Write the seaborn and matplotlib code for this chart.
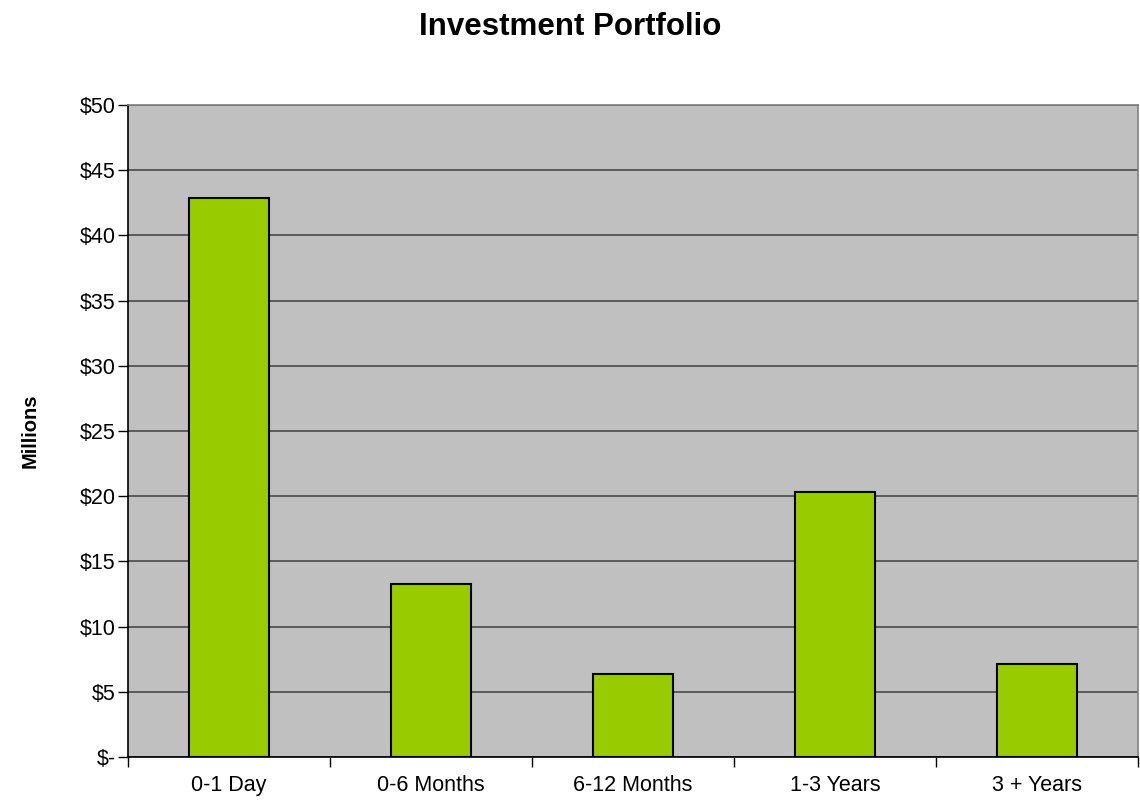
import pandas as pd
import seaborn as sns
import matplotlib.pyplot as plt
from matplotlib.ticker import MultipleLocator, FuncFormatter

# values (millions of dollars)
terms = ['0-1 Day', '0-6 Months', '6-12 Months', '1-3 Years', '3 + Years']
amounts = [42.9, 13.3, 6.4, 20.35, 7.15]


def dollar(v, pos):
    if v == 0:
        return '$-'
    return '${:.0f}'.format(v)


def main():
    sns.set_style('white')
    plt.rcParams['font.family'] = ['Liberation Sans', 'DejaVu Sans']
    plt.rcParams['text.color'] = 'black'
    plt.rcParams['xtick.color'] = 'black'
    plt.rcParams['ytick.color'] = 'black'
    plt.rcParams['axes.labelcolor'] = 'black'

    df = pd.DataFrame({'term': terms, 'amount': amounts})

    fig = plt.figure(figsize=(11.4, 8.02), dpi=100)
    ax = fig.add_axes([128 / 1140, 1 - 757 / 802, 1010 / 1140, 652 / 802])
    ax.set_facecolor('#C0C0C0')

    sns.barplot(data=df, x='term', y='amount', color='#99CC00', width=0.4,
                edgecolor='black', linewidth=1.5, saturation=1, ax=ax, zorder=3)

    ax.set_ylim(0, 50)
    ax.set_xlim(-0.5, len(terms) - 0.5)
    ax.yaxis.set_major_locator(MultipleLocator(5))
    ax.yaxis.set_major_formatter(FuncFormatter(dollar))
    ax.grid(axis='y', color='#404040', linewidth=1.1, zorder=1)
    ax.set_axisbelow(True)

    # x ticks sit between categories, labels in the middle
    ax.set_xticks([i - 0.5 for i in range(len(terms) + 1)], minor=False)
    ax.set_xticklabels([])
    ax.set_xticks(range(len(terms)), minor=True)
    ax.set_xticklabels(terms, minor=True)
    ax.tick_params(axis='x', which='minor', length=0, labelsize=15.5, pad=13)
    ax.tick_params(axis='x', which='major', length=7, width=1, direction='out')
    ax.tick_params(axis='y', length=7, width=1, direction='out', labelsize=15.5, pad=2)
    ax.tick_params(bottom=True, left=True)

    for side in ['left', 'bottom']:
        ax.spines[side].set_color('black')
        ax.spines[side].set_linewidth(1.2)
    for side in ['top', 'right']:
        ax.spines[side].set_visible(True)
        ax.spines[side].set_color('#808080')
        ax.spines[side].set_linewidth(1.2)

    ax.set_xlabel('')
    ax.set_ylabel('Millions', fontsize=14.5, fontweight='bold', labelpad=29)
    fig.suptitle('Investment Portfolio', fontsize=22.5, fontweight='bold', y=0.985)

    fig.savefig('out.png', dpi=100)


if __name__ == '__main__':
    main()
